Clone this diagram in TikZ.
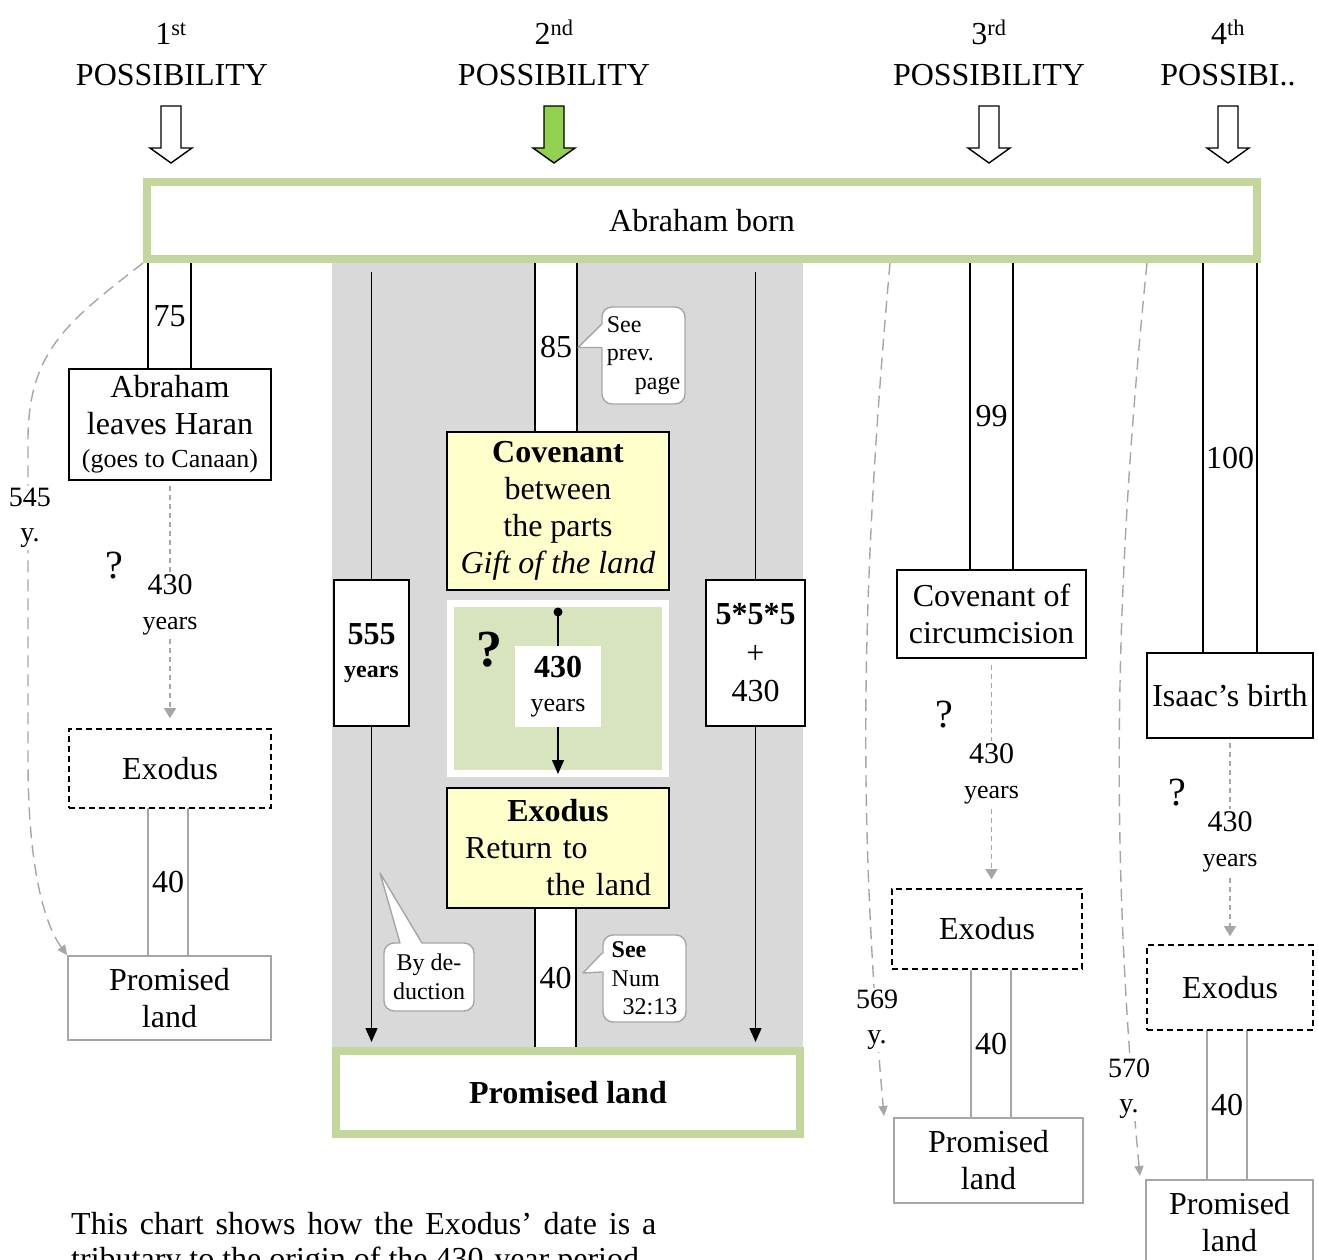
\documentclass[tikz,border=0pt]{standalone}
\usepackage{fontspec}
\setmainfont{Liberation Serif}
\usetikzlibrary{arrows.meta}
\definecolor{frameg}{HTML}{C3D69B}
\definecolor{panel}{HTML}{D9D9D9}
\definecolor{soft}{HTML}{A6A6A6}
\definecolor{yel}{HTML}{FFFFCC}
\definecolor{lgreen}{HTML}{D7E4BD}
\definecolor{agreen}{HTML}{92D050}
\newcommand\fsM{\fontsize{32}{37}\selectfont}
\newcommand\fsS{\fontsize{26}{30}\selectfont}
\newcommand\fsC{\fontsize{24}{28.5}\selectfont}
\newcommand\fsL{\fontsize{28}{35}\selectfont}
\newcommand\fsN{\fontsize{30}{35}\selectfont}
\newcommand\fsQ{\fontsize{40}{44}\selectfont}
\newcommand\fsB{\fontsize{52}{56}\selectfont}
\newcommand\fsT{\fontsize{32}{35}\selectfont}
\begin{document}
\begin{tikzpicture}[x=1pt,y=-1pt,
  box/.style={draw, line width=1.6pt, fill=white, inner sep=0pt, align=center, font=\fsM},
  dbox/.style={box, dash pattern=on 6pt off 4pt},
  gbox/.style={box, draw=soft},
  ybox/.style={box, fill=yel},
  fbox/.style={draw=frameg, line width=8pt, fill=white, inner sep=0pt, font=\fsM},
  barn/.style={inner sep=0pt, font=\fsM},
  side/.style={line width=1.6pt},
  gside/.style={line width=1.6pt, draw=soft},
  plain/.style={line width=1.4pt},
  arr/.style={line width=1.4pt, -{Triangle[length=14pt,width=12pt]}},
  darr/.style={soft, line width=1.4pt, dash pattern=on 5pt off 4pt, -{Triangle[length=10pt,width=12pt]}},
  curve/.style={soft, line width=1.4pt, dash pattern=on 12pt off 7pt, -{Triangle[length=10pt,width=9pt]}},
  lab/.style={fill=white, text=black, inner sep=2pt, align=center, font=\fsL},
  callbox/.style={draw=soft, fill=white, rounded corners=10pt, line width=1.4pt, inner sep=0pt, font=\fsC},
  ptr/.style={soft, line width=1.4pt, line join=round},
  toplab/.style={font=\fsM, anchor=base, inner sep=0pt},
  barrow/.pic={\path[pic actions] (-10,0) -- (10,0) -- (10,42) -- (21,42) -- (0,57) -- (-21,42) -- (-10,42) -- cycle;}
]
\useasboundingbox (0,0) rectangle (1318,1260);
\clip (0,0) rectangle (1318,1260);
\fill[white] (0,0) rectangle (1318,1260);

% grey panel of the 2nd possibility
\fill[panel] (332,263) rectangle (803,1136);

% bars with year counts
\node[barn, minimum width=43pt, minimum height=106pt] (b75) at (169.5,316) {75};
\node[barn, fill=white, minimum width=42pt, minimum height=169pt] (b85) at (556,347.5) {85};
\node[barn, minimum width=40pt, minimum height=148pt] (b40a) at (168,882) {40};
\node[barn, fill=white, minimum width=41pt, minimum height=140pt] (b40b) at (555.5,978) {40};
\node[barn, minimum width=43pt, minimum height=307pt] (b99) at (991.5,416.5) {99};
\node[barn, minimum width=54pt, minimum height=390pt] (b100) at (1230,458) {100};
\node[barn, minimum width=40pt, minimum height=148pt] (b40c) at (991,1044) {40};
\node[barn, minimum width=40pt, minimum height=150pt] (b40d) at (1227,1105) {40};
\foreach \b in {b75,b85,b40b,b99,b100}
  {\draw[side] (\b.north west) -- (\b.south west) (\b.north east) -- (\b.south east);}
\foreach \b in {b40a,b40c,b40d}
  {\draw[gside] (\b.north west) -- (\b.south west) (\b.north east) -- (\b.south east);}

% boxes
\node[fbox, minimum width=1110pt, minimum height=77pt] (born) at (702,220.5) {Abraham born};

\node[box, minimum width=202pt, minimum height=111pt] (haran) at (170,424.5) {Abraham\\leaves Haran\\[-4pt]{\fsS (goes to Canaan)}};
\node[dbox, minimum width=202pt, minimum height=79pt] (exo1) at (170,768.5) {Exodus};
\node[gbox, minimum width=203pt, minimum height=84pt] (pl1) at (169.5,998) {Promised\\land};

\node[box, line width=2.2pt, minimum width=75pt, minimum height=146pt] (b555) at (371.5,653) {\textbf{555}\\[-4pt]{\fsC\bfseries years}};
\node[box, line width=2.2pt, minimum width=99pt, minimum height=146pt] (b5) at (755.5,653) {\textbf{5*5*5}\\[2pt]+\\[1pt]430};
\node[ybox, minimum width=222pt, minimum height=158pt] (cov) at (558,511) {\textbf{Covenant}\\between\\the parts\\\textit{Gift of the land}};
\node[draw=white, line width=7pt, fill=lgreen, minimum width=215pt, minimum height=170pt, inner sep=0pt] (gbx) at (558,688.5) {};
\node[fill=white, minimum width=86pt, minimum height=81pt, inner sep=0pt, align=center, font=\fsM] (b430) at (558,686.5) {\textbf{430}\\[-3pt]{\fsS years}};
\node[ybox, text width=186pt, inner xsep=18pt, minimum height=120pt, align=left] (exo2) at (558,848)
  {\hspace*{\fill}\textbf{Exodus}\hspace*{\fill}\null\\Return to\\\hspace*{\fill}the land};
\node[fbox, minimum width=464pt, minimum height=83pt, font=\fsM\bfseries] (pl2) at (568,1092.5) {Promised land};

\node[box, minimum width=189pt, minimum height=88pt] (covc) at (991.5,614) {Covenant of\\circumcision};
\node[dbox, minimum width=190pt, minimum height=80pt] (exo3) at (987,929) {Exodus};
\node[gbox, minimum width=189pt, minimum height=85pt] (pl3) at (988.5,1160.5) {Promised\\land};

\node[box, minimum width=166pt, minimum height=85pt] (isaac) at (1230,695.5) {Isaac’s birth};
\node[dbox, minimum width=166pt, minimum height=85pt] (exo4) at (1230,987.5) {Exodus};
\node[gbox, minimum width=167pt, minimum height=85pt] (pl4) at (1229.5,1222.5) {Promised\\land};

% 2nd possibility lines
\draw[plain, shorten <=9pt] (born.south -| b555) -- (b555.north);
\draw[arr, shorten >=5pt] (b555.south) -- (b555.south |- pl2.north);
\draw[plain, shorten <=9pt] (born.south -| b5) -- (b5.north);
\draw[arr, shorten >=5pt] (b5.south) -- (b5.south |- pl2.north);
\coordinate (gtop) at (558,612);
\fill (gtop) circle (4.5pt);
\draw[plain] (gtop) -- (b430.north);
\draw[arr, shorten >=3pt] (b430.south) -- (b430.south |- gbx.south);
\node[font=\fsB\bfseries, inner sep=0pt] (q2) at (489,650) {?};

% dashed 430-year arrows
\draw[darr, shorten <=5pt, shorten >=10pt] (haran.south) -- node[lab, font=\fsN] (l1) {430\\{\fsS years}} (exo1.north);
\draw[darr, shorten <=6pt, shorten >=9pt] (covc.south) -- node[lab, font=\fsN] (l3) {430\\{\fsS years}} (covc.south |- exo3.north);
\draw[darr, shorten <=4pt, shorten >=8pt] (isaac.south) -- node[lab, font=\fsN] (l4) {430\\{\fsS years}} (exo4.north);
\node[font=\fsQ, inner sep=0pt] (q1) at (114,566) {?};
\node[font=\fsQ, inner sep=0pt] (q3) at (944,715) {?};
\node[font=\fsQ, inner sep=0pt] (q4) at (1177,793) {?};

% long dashed curves
\draw[curve] (born.south west) .. controls (70,320) and (28,350) .. (28,440) -- (28,760) .. controls (28,870) and (45,925) .. (pl1.north west);
\node[lab] (y545) at (30,518) {545\\y.};
\coordinate (c3s) at (890,263);
\coordinate (c3e) at (884,1116);
\draw[curve] (c3s) .. controls (860,600) and (858,820) .. (c3e);
\node[lab] (y569) at (877,1020) {569\\y.};
\coordinate (c4s) at (1147,263);
\coordinate (c4e) at (1140,1176);
\draw[curve] (c4s) .. controls (1113,600) and (1110,860) .. (c4e);
\node[lab] (y570) at (1129,1089) {570\\y.};

% callouts
\node[callbox, minimum width=83pt, minimum height=97pt, align=left] (cprev) at (643.5,355.5) {See\\prev.\\\hspace*{28pt}page};
\fill[white] (601,325) rectangle (604.5,346.5);
\fill[white] (602.5,324) -- (578,347.5) -- (602.5,347.5) -- cycle;
\draw[ptr] (602,324) -- (578,347.5) -- (602,347.5);

\node[callbox, minimum width=83pt, minimum height=87pt, align=left] (cnum) at (644.5,978.5) {\textbf{See}\\Num\\\hspace*{11pt}32:13};
\fill[white] (601,954) rectangle (604.5,971);
\fill[white] (602.5,953) -- (583,973) -- (602.5,972) -- cycle;
\draw[ptr] (602,953) -- (583,973) -- (602,972);

\node[callbox, minimum width=90pt, minimum height=68pt, align=center] (cded) at (429,977) {By de-\\duction};
\fill[white] (401,941.5) rectangle (421,945);
\fill[white] (400,943.5) -- (380,873) -- (422,943.5) -- cycle;
\draw[ptr] (400,943) -- (380,873) -- (422,943);

% headings and block arrows
\node[toplab] (n1) at (171,45) {1\textsuperscript{st}};
\node[toplab] (p1) at (172,86) {POSSIBILITY};
\node[toplab] (n2) at (554,45) {2\textsuperscript{nd}};
\node[toplab] (p2) at (554,86) {POSSIBILITY};
\node[toplab] (n3) at (989,45) {3\textsuperscript{rd}};
\node[toplab] (p3) at (989,86) {POSSIBILITY};
\node[toplab] (n4) at (1228,45) {4\textsuperscript{th}};
\node[toplab] (p4) at (1228,86) {POSSIBI..};
\pic[draw, fill=white, line width=1.4pt] at (171,106) {barrow};
\pic[draw, fill=agreen, line width=1.4pt] at (554,106) {barrow};
\pic[draw, fill=white, line width=1.4pt] at (989,106) {barrow};
\pic[draw, fill=white, line width=1.4pt] at (1228,106) {barrow};

% note below
\node[anchor=north west, inner sep=0pt, text width=585pt, align=justify, font=\fsT] (note) at (71,1212.5)
  {This chart shows how the Exodus’ date is a\linebreak tributary to the origin of the 430-year period.};
\end{tikzpicture}
\end{document}
